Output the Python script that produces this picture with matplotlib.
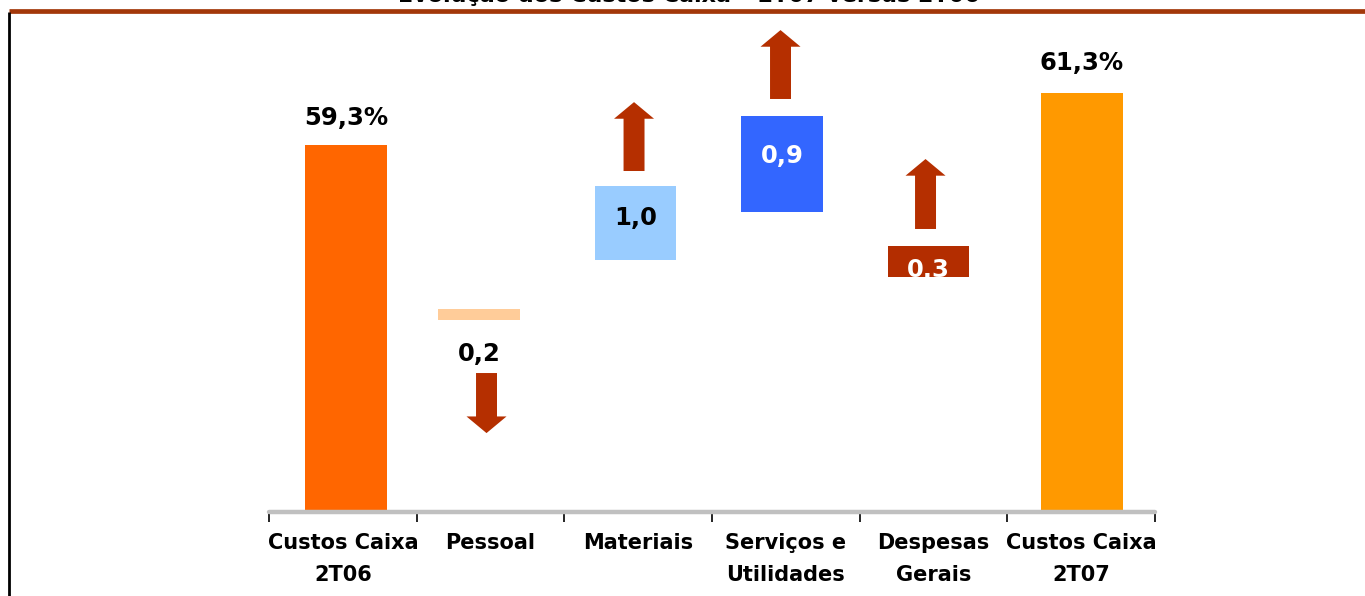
import matplotlib
matplotlib.use("Agg")
import matplotlib.pyplot as plt
from matplotlib.patches import FancyArrow
from matplotlib.lines import Line2D

# ---- data ----
categories = ["Custos Caixa\n2T06", "Pessoal", "Materiais",
              "Serviços e\nUtilidades", "Despesas\nGerais", "Custos Caixa\n2T07"]
values = [59.3, -0.2, 1.0, 0.9, 0.3, 61.3]
value_labels = ["59,3%", "0,2", "1,0", "0,9", "0,3", "61,3%"]
# schematic levels of the floating bars (chart is not to scale)
bar_bottom = [None, 52.57, 54.88, 56.72, 54.22, None]
bar_top = [59.3, 52.99, 57.72, 60.42, 55.42, 61.3]
label_y = [60.34, 51.26, 56.49, 58.88, 54.48, 62.455]
arrow_start = [None, 50.53, 58.30, 61.07, 56.07, None]
arrow_end = [None, 48.22, 60.95, 63.72, 58.76, None]
title = "Evolução dos Custos Caixa – 2T07 versus 2T06"

# ---- styles / positions ----
bar_x = [0.021, 0.922, 1.982, 2.974, 3.966, 5.005]
arrow_x = [None, 0.973, 1.972, 2.964, 3.946, None]
bar_colors = ["#FF6600", "#FFCC99", "#99CCFF", "#3366FF", "#B32D00", "#FF9900"]
label_colors = ["black", "black", "black", "white", "white", "black"]
arrow_color = "#B52F00"
y_base = 45.185
y_top = 64.877

W, H = 1365, 596
fig = plt.figure(figsize=(W / 100, H / 100), dpi=100)
ax = fig.add_axes([269 / W, (H - 512) / H, 886 / W, 512 / H])
ax.set_xlim(-0.5, 5.5)
ax.set_ylim(y_base, y_top)

for i in range(len(categories)):
    b = bar_bottom[i] if bar_bottom[i] is not None else y_base
    bars = ax.bar(bar_x[i], bar_top[i] - b, bottom=b, width=0.555,
                  color=bar_colors[i], zorder=2)
    t = ax.text(bar_x[i], label_y[i], value_labels[i], ha="center", va="center",
                fontsize=17.5, fontweight="bold", color=label_colors[i],
                zorder=4)
    if label_colors[i] == "white":
        t.set_clip_path(bars[0])
    if arrow_start[i] is not None:
        dy = arrow_end[i] - arrow_start[i]
        arr = FancyArrow(arrow_x[i], arrow_start[i], 0, dy, width=0.142,
                         head_width=0.271, head_length=0.64,
                         length_includes_head=True, color=arrow_color,
                         linewidth=0, zorder=3)
        ax.add_patch(arr)

# axes styling
for s in ["top", "right", "left"]:
    ax.spines[s].set_visible(False)
ax.spines["bottom"].set_color("#C0C0C0")
ax.spines["bottom"].set_linewidth(3.2)
ax.spines["bottom"].set_zorder(5)
ax.spines["bottom"].set_capstyle("round")
ax.set_yticks([])
ax.set_xticks([i - 0.5 for i in range(7)])
ax.set_xticklabels([])
ax.tick_params(axis="x", which="major", direction="out", length=7,
               width=1.2, color="black")
ax.set_xticks(range(6), minor=True)
ax.set_xticklabels(categories, minor=True, fontsize=15, fontweight="bold",
                   linespacing=1.75)
ax.tick_params(axis="x", which="minor", length=0, pad=15)

# decorations: top rule, left rule, truncated title
fig.add_artist(Line2D([9 / W, 1.0], [1 - 10.5 / H, 1 - 10.5 / H],
                      color="#A3380A", linewidth=3.4,
                      transform=fig.transFigure, solid_capstyle="butt"))
fig.add_artist(Line2D([9 / W, 9 / W], [1 - 12 / H, 0.0],
                      color="black", linewidth=2.0,
                      transform=fig.transFigure, solid_capstyle="butt"))
fig.text(689 / W, 1 - 2.5 / H, title, ha="center", va="baseline",
         fontsize=16, fontweight="bold", color="black")

fig.savefig("out.png", dpi=100)
